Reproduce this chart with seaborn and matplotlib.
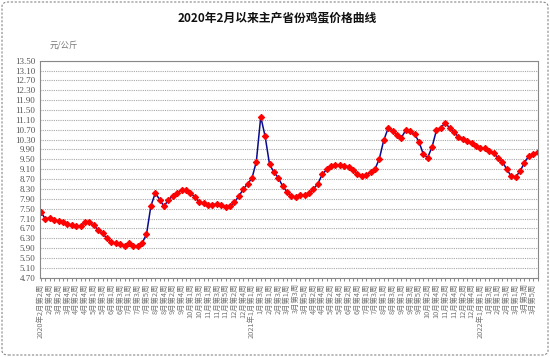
import matplotlib
matplotlib.use('Agg')
import matplotlib.pyplot as plt
import seaborn as sns
import pandas as pd
from matplotlib.patches import FancyBboxPatch
from matplotlib.ticker import FixedLocator

# ---- data ----
title = "2020年2月以来主产省份鸡蛋价格曲线"
unit = "元/公斤"

# (month, first week, last week) per month, for each year
months_2020 = [(2, 2, 4), (3, 1, 4), (4, 1, 5), (5, 1, 4), (6, 1, 4), (7, 1, 5), (8, 1, 4),
               (9, 1, 5), (10, 1, 4), (11, 1, 5), (12, 1, 5)]
months_2021 = [(1, 1, 4), (2, 1, 4), (3, 1, 5), (4, 1, 4), (5, 1, 4), (6, 1, 5), (7, 1, 4),
               (8, 1, 4), (9, 1, 5), (10, 1, 4), (11, 1, 4), (12, 1, 5)]
months_2022 = [(1, 1, 4), (2, 1, 4), (3, 1, 5), (4, 1, 1)]

prices = [
    7.35, 7.08, 7.12, 7.03, 6.98,
    6.94, 6.89, 6.83, 6.79, 6.80, 6.94, 6.94, 6.83, 6.63, 6.50, 6.30, 6.14, 6.10, 6.06, 5.99, 6.09,
    5.98, 5.97, 6.10, 6.46, 7.61, 8.13, 7.87, 7.59, 7.87, 8.01, 8.13, 8.27, 8.27, 8.14, 7.97, 7.77,
    7.73, 7.66, 7.66, 7.69, 7.64, 7.56, 7.60, 7.76, 8.00, 8.28, 8.51, 8.73, 9.41, 11.23, 10.43, 9.30,
    8.98, 8.75, 8.41, 8.18, 8.00, 7.98, 8.05, 8.07, 8.13, 8.30, 8.51, 8.89, 9.09, 9.23, 9.27, 9.26,
    9.23, 9.19, 9.08, 8.92, 8.82, 8.86,
    8.97, 9.10, 9.53, 10.28, 10.76, 10.65, 10.49, 10.38, 10.68, 10.63, 10.52, 10.22, 9.71, 9.57,
    10.01, 10.69, 10.79, 10.99, 10.76, 10.60, 10.41, 10.32, 10.25, 10.17, 10.03, 9.98, 9.95, 9.84,
    9.74, 9.57, 9.41, 9.09, 8.82, 8.79, 9.01, 9.36, 9.64,
    9.72, 9.80,
]

y_ticks = [4.70, 5.10, 5.50, 5.90, 6.30, 6.70, 7.10, 7.50, 7.90, 8.30, 8.70, 9.10, 9.50,
           9.90, 10.30, 10.70, 11.10, 11.50, 11.90, 12.30, 12.70, 13.10, 13.50]

weeks = []
for year, months in ((2020, months_2020), (2021, months_2021), (2022, months_2022)):
    first = True
    for m, w0, w1 in months:
        for w in range(w0, w1 + 1):
            lab = f"{m}月第{w}周"
            if first:
                lab = f"{year}年" + lab
                first = False
            weeks.append(lab)

df = pd.DataFrame({"idx": list(range(len(prices))), "week": weeks[:len(prices)], "price": prices})

# ---- plot ----
sns.set_theme(style="white")
plt.rcParams['font.family'] = ['Noto Sans CJK SC', 'DejaVu Sans']

fig = plt.figure(figsize=(5.5, 3.57), dpi=100)
ax = fig.add_axes([39.5 / 550, 1 - 277.7 / 357, (538 - 39.5) / 550, (277.7 - 60.7) / 357])

sns.lineplot(data=df, x="idx", y="price", ax=ax, color="#0a0a8c", linewidth=1.1,
             marker="D", markersize=3.2, markerfacecolor="#ff0000", markeredgecolor="#ff0000")

ax.set_xlim(-0.35, 113.1)
ax.set_ylim(4.70, 13.50)
ax.set_yticks(y_ticks)
ax.set_yticklabels([f"{v:.2f}" for v in y_ticks], fontsize=6.5, color="#555555",
                   family=['Liberation Serif', 'DejaVu Serif'])
ax.yaxis.grid(True, color="#a8a8a8", linestyle=(0, (1, 1)), linewidth=0.8)
ax.xaxis.grid(False)

lab_pos = list(range(0, len(prices), 2))
ax.set_xticks(lab_pos)
ax.set_xticklabels([weeks[i] for i in lab_pos], rotation=90, fontsize=5.3, color="#777777")
ax.xaxis.set_minor_locator(FixedLocator(list(range(len(prices)))))
ax.tick_params(axis='x', which='both', bottom=True, length=2.5, width=0.6, color="#777777", pad=1.5)
ax.tick_params(axis='y', length=0, pad=3)
ax.set_xlabel("")
ax.set_ylabel("")

for side in ax.spines.values():
    side.set_color("#888888")
    side.set_linestyle((0, (1, 1)))
    side.set_linewidth(0.8)

fig.text(277 / 550, 1 - 18 / 357, title, ha="center", va="center", fontsize=8.5,
         fontweight="bold", color="#111111")
fig.text(50 / 550, 1 - 45 / 357, unit, ha="left", va="center", fontsize=6, color="#777777")

border = FancyBboxPatch((2 / 550, 2 / 357), 546 / 550, 353 / 357,
                        boxstyle="round,pad=0,rounding_size=0.012", transform=fig.transFigure,
                        fill=False, edgecolor="#888888", linestyle=(0, (2, 1.5)), linewidth=0.8)
fig.patches.append(border)

fig.savefig("out.png", dpi=100)
